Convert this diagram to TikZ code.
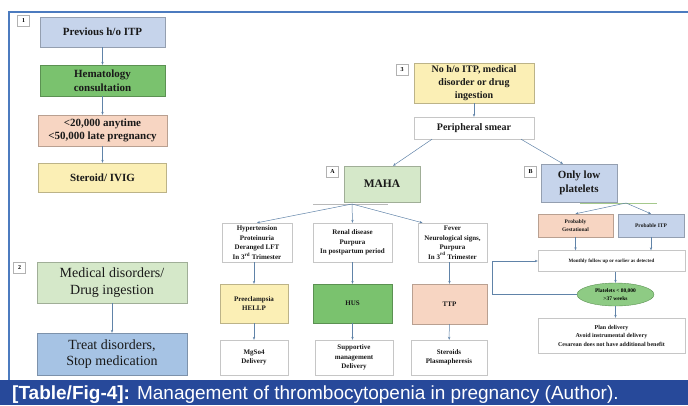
\documentclass[tikz,border=0pt]{standalone}
\usepackage{fontspec}
\setmainfont{Liberation Serif}
\newfontfamily\capfont{Liberation Sans}
\usetikzlibrary{arrows.meta,shapes.geometric,calc}

\definecolor{cblue}{HTML}{C6D4EB}
\definecolor{cgreen}{HTML}{7AC26E}
\definecolor{cpeach}{HTML}{F7D5C2}
\definecolor{cyellow}{HTML}{FBEFB5}
\definecolor{clgreen}{HTML}{D5E8C9}
\definecolor{cdblue}{HTML}{A6C3E4}
\definecolor{cgline}{HTML}{A5C98C}
\definecolor{arrowc}{HTML}{6083A8}
\definecolor{framec}{HTML}{4C7BBF}
\definecolor{capbar}{HTML}{27499A}

\tikzset{
  box/.style={rectangle, inner sep=1pt, align=center, text=black!90},
  cbox/.style={box, fill=#1, draw=#1!75!black},
  wbox/.style={box, fill=white, draw=gray!45},
  sz/.style 2 args={minimum width=#1pt, minimum height=#2pt},
  tag/.style={rectangle, draw=gray!60, fill=white, inner sep=0pt,
    minimum width=12pt, minimum height=11pt, font=\fontsize{6}{7}\selectfont\bfseries},
  arr/.style={draw=arrowc, line width=0.5pt, -{Stealth[length=3pt,width=2.4pt]}},
  txtL/.style={font=\fontsize{11}{13.5}\selectfont\bfseries},
  txtX/.style={font=\fontsize{14}{16.5}\selectfont},
  txtM/.style={font=\fontsize{10}{13}\selectfont\bfseries},
  txtS/.style={font=\fontsize{7}{9.5}\selectfont\bfseries},
  txtT/.style={font=\fontsize{5.5}{8}\selectfont\bfseries},
}

\begin{document}
\begin{tikzpicture}[x=1pt,y=-1pt]
\useasboundingbox (0,0) rectangle (688,405);

% frame and caption
\draw[framec, line width=2pt] (688,12) -- (8.5,12) -- (8.5,380);
\fill[capbar] (0,380) rectangle (688,405);
\node[anchor=base west, inner sep=0pt, text=white, font=\capfont\fontsize{19}{21}\selectfont]
  (cap) at (12,399) {\textbf{[Table/Fig-4]:} Management of thrombocytopenia in pregnancy (Author).};

% 1: previous ITP
\node[tag] (t1) at (23.5,20.5) {1};
\node[cbox=cblue, sz={125}{30}, txtL] (prev) at (102.5,32) {Previous h/o ITP};
\node[cbox=cgreen, sz={125}{31}, txtL] (hema) at (102.5,80.5) {Hematology\\consultation};
\node[cbox=cpeach, sz={129}{31}, txtL] (plt) at (102.5,130.5) {<20,000 anytime\\<50,000 late pregnancy};
\node[cbox=cyellow, sz={128}{29}, txtL] (ster) at (102.5,177.5) {Steroid/ IVIG};
\draw[arr] (prev) -- (hema);
\draw[arr] (hema) -- (plt);
\draw[arr] (plt) -- (ster);

% 2: medical disorders
\node[tag] (t2) at (19.5,268) {2};
\node[cbox=clgreen, sz={150}{41}, txtX] (med) at (112,282.5) {Medical disorders/\\Drug ingestion};
\node[cbox=cdblue, sz={150}{42}, txtX] (treat) at (112,354) {Treat disorders,\\Stop medication};
\draw[arr] (med) -- (treat);

% 3: no history
\node[tag] (t3) at (402,70) {3};
\node[cbox=cyellow, sz={120}{40}, txtM] (noh) at (474,83) {No h/o ITP, medical\\disorder or drug\\ingestion};
\node[wbox, sz={120}{22}, txtM] (psm) at (474,128) {Peripheral smear};
\draw[arr] (noh) -- (psm);

% A: MAHA
\node[tag] (ta) at (332.5,172) {A};
\node[cbox=clgreen, sz={76}{36}, font=\fontsize{11.5}{13}\selectfont\bfseries] (maha) at (382,184) {MAHA};
\draw[arr] ([xshift=-42pt]psm.south) -- ([xshift=11pt]maha.north);
\coordinate (mb) at (352,204);
\draw[gray!55, line width=0.8pt] (313,204) -- (388,204);

\node[wbox, sz={70}{39}, txtS] (hyp) at (257,242.5) {Hypertension\\Proteinuria\\Deranged LFT\\In 3\textsuperscript{rd} Trimester};
\node[wbox, sz={79}{39}, txtS] (ren) at (352.5,242.5) {Renal disease\\Purpura\\In postpartum period};
\node[wbox, sz={69}{39}, txtS] (fev) at (452.5,242.5) {Fever\\Neurological signs,\\Purpura\\In 3\textsuperscript{rd} Trimester};
\draw[arr] (mb) -- (hyp.north);
\draw[arr] (mb) -- (ren.north);
\draw[arr] (mb) -- ([xshift=-30pt]fev.north);

\node[cbox=cyellow, sz={68}{39}, txtS] (pre) at (254,303.5) {Preeclampsia\\HELLP};
\node[cbox=cgreen, sz={79}{39}, txtS] (hus) at (352.5,303.5) {HUS};
\node[cbox=cpeach, sz={75}{40}, txtS] (ttp) at (449.5,304) {TTP};
\draw[arr] (pre.north |- hyp.south) -- (pre.north);
\draw[arr] (hus.north |- ren.south) -- (hus.north);
\draw[arr] (ttp.north |- fev.south) -- (ttp.north);

\node[wbox, sz={68}{35}, txtS] (mgs) at (254,357.5) {MgSo4\\Delivery};
\node[wbox, sz={78}{35}, txtS] (sup) at (354,357.5) {Supportive\\management\\Delivery};
\node[wbox, sz={76}{35}, txtS] (sto) at (449,357.5) {Steroids\\Plasmapheresis};
\draw[arr] (pre) -- (mgs);
\draw[arr] (hus.south) -- (hus.south |- sup.north);
\draw[arr] (ttp) -- (sto);

% B: only low platelets
\node[tag] (tb) at (530.5,172) {B};
\node[cbox=cblue, sz={76}{38}, txtL] (olp) at (579,183) {Only low\\platelets};
\draw[arr] ([xshift=47pt]psm.south) -- ([xshift=-16pt]olp.north);
\coordinate (ob) at (626,203);
\draw[cgline, line width=0.9pt] (580,203) -- (657,203);

\node[cbox=cpeach, sz={75}{23}, txtT] (gest) at (575.5,225.5) {Probably\\Gestational};
\node[cbox=cblue, sz={66}{23}, txtT] (pitp) at (651,225.5) {Probable ITP};
\draw[arr] (ob) -- (gest.north);
\draw[arr] (ob) -- (pitp.north);

\node[wbox, sz={147}{21}, font=\fontsize{5}{7}\selectfont\bfseries] (mon) at (611.5,261) {Monthly follow up or earlier as detected};
\draw[arr] (gest.south) -- (gest.south |- mon.north);
\draw[arr] (pitp.south) -- (pitp.south |- mon.north);

\node[ellipse, fill=cgreen!85!white, draw=cgreen!75!black, inner sep=0pt, sz={77}{23}, align=center, txtT] (ell) at (615.5,294.5) {Platelets < 80,000\\>37 weeks};
\draw[arr] (ell.north |- mon.south) -- (ell.north);

\node[wbox, sz={147}{35}, font=\fontsize{6}{8.5}\selectfont\bfseries] (plan) at (611.5,335.5) {Plan delivery\\Avoid instrumental delivery\\Cesarean does not have additional benefit};
\draw[arr] (ell.south) -- (ell.south |- plan.north);
\draw[arr] (ell.west) -- ++(-85,0) |- (mon.west);

\end{tikzpicture}
\end{document}
